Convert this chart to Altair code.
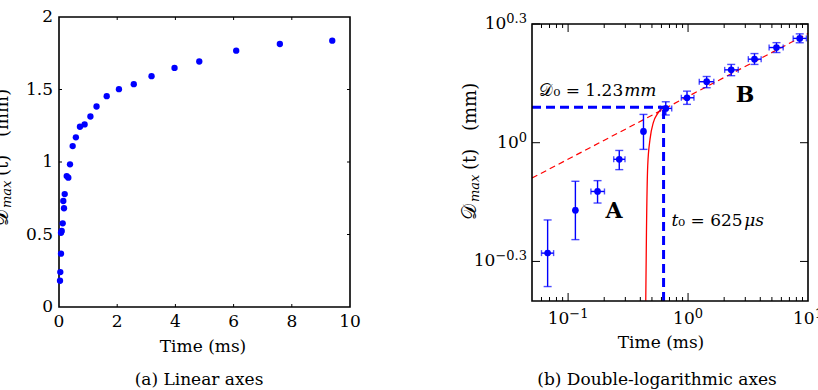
import altair as alt
import pandas as pd

# ---------------- data: panel (a), linear axes ----------------
t_lin = [0.034, 0.045, 0.069, 0.069, 0.093, 0.127, 0.172, 0.148, 0.196, 0.265,
         0.32, 0.378, 0.47, 0.58, 0.72, 0.88, 1.08, 1.29, 1.64, 2.06, 2.57,
         3.18, 3.97, 4.82, 6.09, 7.59, 9.39]
d_lin = [0.181, 0.241, 0.368, 0.512, 0.524, 0.577, 0.681, 0.731, 0.779, 0.903,
         0.892, 0.984, 1.110, 1.170, 1.243, 1.259, 1.314, 1.383, 1.454, 1.502,
         1.537, 1.592, 1.649, 1.693, 1.768, 1.814, 1.837]
lin_xticks = [0, 2, 4, 6, 8, 10]
lin_yticks = [0, 0.5, 1, 1.5, 2]

# ---------------- data: panel (b), log-log with error bars ----------------
t_log = [0.0675, 0.115, 0.176, 0.267, 0.425, 0.652, 0.980, 1.43, 2.29, 3.58, 5.46, 8.53]
t_lo = [0.060, 0.112, 0.155, 0.240, 0.415, 0.585, 0.879, 1.24, 2.02, 3.18, 4.74, 7.52]
t_hi = [0.0757, 0.118, 0.201, 0.298, 0.435, 0.731, 1.12, 1.64, 2.62, 4.07, 6.21, 9.70]
d_log = [0.526, 0.675, 0.753, 0.908, 1.068, 1.221, 1.299, 1.426, 1.528, 1.626, 1.740, 1.835]
d_lo = [0.433, 0.569, 0.704, 0.855, 0.962, 1.175, 1.250, 1.377, 1.477, 1.577, 1.690, 1.789]
d_hi = [0.638, 0.799, 0.802, 0.956, 1.179, 1.269, 1.350, 1.470, 1.577, 1.680, 1.790, 1.884]

# power-law regime B (dashed straight line in log-log)
fit_t = [0.05, 10.0]
fit_d = [0.814, 1.887]
# early-time curve of regime A
curve_t = [0.444, 0.450, 0.461, 0.482, 0.514, 0.554, 0.600, 0.640]
curve_d = [0.3985, 0.594, 0.875, 1.021, 1.126, 1.181, 1.216, 1.232]

T0 = 0.625   # ms
D0 = 1.23    # mm

log_x_domain = [0.05, 10.0]
log_y_domain = [10 ** -0.4, 10 ** 0.3]
log_x_major = [0.1, 1.0]
log_x_minor = [0.06, 0.07, 0.08, 0.09, 0.2, 0.3, 0.4, 0.5, 0.6, 0.7, 0.8, 0.9,
               2, 3, 4, 5, 6, 7, 8, 9]
log_x_labels = [(0.1, "\u22121"), (1.0, "0"), (10.0, "1")]
log_y_major = [10 ** -0.3, 1.0, 10 ** 0.3]
log_y_labels = [(10 ** -0.3, "\u22120.3"), (1.0, "0"), (10 ** 0.3, "0.3")]

# ---------------- layout & styling ----------------
FONT = "DejaVu Serif"
BLUE = "#0000ff"
RED = "#ff0000"
CANVAS_W, CANVAS_H = 818, 390
# plot frames of the two sub-figures on the shared canvas
A = dict(left=59, right=350, top=17, bottom=307)
B = dict(left=532, right=808, top=24, bottom=301)
CHAR_W = {"0": .636, "1": .636, "3": .636, ".": .318, "\u2212": .838}


def one(s):
    return pd.DataFrame({"s": [s]})


def text_layer(df, x, y, text_field="s", size=17, style="normal", weight="normal",
               align="center", baseline="middle", angle=0, dx=0, dy=0):
    return alt.Chart(df).mark_text(
        font=FONT, fontSize=size, fontStyle=style, fontWeight=weight,
        align=align, baseline=baseline, angle=angle, dx=dx, dy=dy, color="black"
    ).encode(x=x, y=y, text=f"{text_field}:N")


def ylabel_title(base_x, start_y):
    """Rotated 'Dmax(t) (mm)' built from pieces (script D, italic subscript)."""
    parts = [("\U0001D49F", 20, "normal", 0, 0),
             ("max", 13, "italic", 18, 3),
             ("(t)", 18, "normal", 50, 0),
             ("(mm)", 18, "normal", 89, 0)]
    return [text_layer(one(s), alt.value(base_x), alt.value(start_y), size=sz, style=st,
                       align="left", baseline="alphabetic", angle=270, dx=dx, dy=dy)
            for s, sz, st, dx, dy in parts]


def frame(p):
    return alt.Chart(one("")).mark_rect(filled=False, color="black", strokeWidth=1.6).encode(
        x=alt.value(p["left"]), x2=alt.value(p["right"]),
        y=alt.value(p["top"]), y2=alt.value(p["bottom"]))


# ================= panel (a) =================
xs_a = alt.Scale(domain=[0, 10], range=[A["left"], A["right"]], nice=False, zero=False)
ys_a = alt.Scale(domain=[0, 2], range=[A["bottom"], A["top"]], nice=False, zero=False)


def XA(f):
    return alt.X(f"{f}:Q", scale=xs_a, axis=None)


def YA(f):
    return alt.Y(f"{f}:Q", scale=ys_a, axis=None)


pts_a = alt.Chart(pd.DataFrame({"t": t_lin, "d": d_lin})).mark_circle(
    size=40, color=BLUE, opacity=1).encode(x=XA("t"), y=YA("d"))

xt_a = pd.DataFrame({"v": lin_xticks[1:-1]})
yt_a = pd.DataFrame({"v": lin_yticks[1:-1]})
tick_a = []
for y0, y1 in [(A["bottom"], A["bottom"] - 3), (A["top"], A["top"] + 3)]:
    tick_a.append(alt.Chart(xt_a).mark_rule(color="black", strokeWidth=1).encode(
        x=XA("v"), y=alt.value(y0), y2=alt.value(y1)))
for x0, x1 in [(A["left"], A["left"] + 3), (A["right"], A["right"] - 3)]:
    tick_a.append(alt.Chart(yt_a).mark_rule(color="black", strokeWidth=1).encode(
        y=YA("v"), x=alt.value(x0), x2=alt.value(x1)))

xl_a = pd.DataFrame({"v": lin_xticks, "s": [f"{v:g}" for v in lin_xticks]})
yl_a = pd.DataFrame({"v": lin_yticks, "s": [f"{v:g}" for v in lin_yticks]})
labels_a = [
    text_layer(xl_a, XA("v"), alt.value(A["bottom"] + 15)),
    text_layer(yl_a, alt.value(A["left"] - 6), YA("v"), align="right"),
]

texts_a = [
    text_layer(one("Time (ms)"), alt.value(203), alt.value(A["bottom"] + 40)),
    text_layer(one("(a) Linear axes"), alt.value(199), alt.value(380)),
] + ylabel_title(A["left"] - 51, A["top"] + 209)

panel_a = alt.layer(frame(A), *tick_a, pts_a, *labels_a, *texts_a)

# ================= panel (b) =================
xs_b = alt.Scale(type="log", domain=log_x_domain, range=[B["left"], B["right"]], nice=False)
ys_b = alt.Scale(type="log", domain=log_y_domain, range=[B["bottom"], B["top"]], nice=False)


def X(f):
    return alt.X(f"{f}:Q", scale=xs_b, axis=None)


def Y(f):
    return alt.Y(f"{f}:Q", scale=ys_b, axis=None)


df_b = pd.DataFrame({"t": t_log, "tlo": t_lo, "thi": t_hi,
                     "d": d_log, "dlo": d_lo, "dhi": d_hi})

guide_h = alt.Chart(pd.DataFrame({"a": [log_x_domain[0]], "b": [T0], "d": [D0]})).mark_rule(
    color=BLUE, strokeWidth=3, strokeDash=[9, 5]).encode(x=X("a"), x2="b:Q", y=Y("d"))
guide_v = alt.Chart(pd.DataFrame({"t": [T0], "a": [log_y_domain[0]], "b": [D0]})).mark_rule(
    color=BLUE, strokeWidth=3, strokeDash=[9, 5]).encode(x=X("t"), y=Y("a"), y2="b:Q")

fit_line = alt.Chart(pd.DataFrame({"t": fit_t, "d": fit_d})).mark_line(
    color=RED, strokeWidth=1.2, strokeDash=[6, 4]).encode(x=X("t"), y=Y("d"))
early_curve = alt.Chart(pd.DataFrame({"t": curve_t, "d": curve_d})).mark_line(
    color=RED, strokeWidth=1.3, interpolate="monotone").encode(
    x=X("t"), y=Y("d"), order="d:Q")

err_y = alt.Chart(df_b).mark_rule(color=BLUE, strokeWidth=1.4).encode(
    x=X("t"), y=Y("dlo"), y2="dhi:Q")
err_x = alt.Chart(df_b).mark_rule(color=BLUE, strokeWidth=1.4).encode(
    x=X("tlo"), x2="thi:Q", y=Y("d"))
cap_lo = alt.Chart(df_b).mark_tick(color=BLUE, orient="horizontal", size=8, thickness=1.4).encode(
    x=X("t"), y=Y("dlo"))
cap_hi = alt.Chart(df_b).mark_tick(color=BLUE, orient="horizontal", size=8, thickness=1.4).encode(
    x=X("t"), y=Y("dhi"))
cap_l = alt.Chart(df_b).mark_tick(color=BLUE, orient="vertical", size=6, thickness=1.4).encode(
    x=X("tlo"), y=Y("d"))
cap_r = alt.Chart(df_b).mark_tick(color=BLUE, orient="vertical", size=6, thickness=1.4).encode(
    x=X("thi"), y=Y("d"))
pts_b = alt.Chart(df_b).mark_circle(size=45, color=BLUE, opacity=1).encode(x=X("t"), y=Y("d"))

tick_b = []
for vals, ln in [(log_x_major, 8), (log_x_minor, 4)]:
    dfv = pd.DataFrame({"v": vals})
    for y0, y1 in [(B["bottom"], B["bottom"] - ln), (B["top"], B["top"] + ln)]:
        tick_b.append(alt.Chart(dfv).mark_rule(color="black", strokeWidth=1).encode(
            x=X("v"), y=alt.value(y0), y2=alt.value(y1)))
dfy = pd.DataFrame({"v": log_y_major})
for x0, x1 in [(B["left"], B["left"] + 8), (B["right"], B["right"] - 8)]:
    tick_b.append(alt.Chart(dfy).mark_rule(color="black", strokeWidth=1).encode(
        y=Y("v"), x=alt.value(x0), x2=alt.value(x1)))

labels_b = []
base_w = 1.272 * 17
for v, e in log_x_labels:
    exp_w = sum(CHAR_W[c] for c in e) * 13
    off = (base_w - exp_w) / 2
    dfl = pd.DataFrame({"t": [v], "s": ["10"], "e": [e]})
    labels_b.append(text_layer(dfl, X("t"), alt.value(B["bottom"] + 18), align="right", dx=off))
    labels_b.append(text_layer(dfl, X("t"), alt.value(B["bottom"] + 18), text_field="e",
                               size=13, align="left", dx=off, dy=-5))
for v, e in log_y_labels:
    exp_w = sum(CHAR_W[c] for c in e) * 13
    dfl = pd.DataFrame({"d": [v], "s": ["10"], "e": [e]})
    labels_b.append(text_layer(dfl, alt.value(B["left"] - 5 - exp_w), Y("d"), align="right"))
    labels_b.append(text_layer(dfl, alt.value(B["left"] - 5), Y("d"), text_field="e", size=13,
                               align="right", dy=-5))


def at(t, d, s):
    return pd.DataFrame({"t": [t], "d": [d], "s": [s]})


notes_b = [
    text_layer(at(0.288, 1.352, "\U0001D49F\u2080 = 1.23"), X("t"), Y("d"), align="right"),
    text_layer(at(0.288, 1.352, "mm"), X("t"), Y("d"), style="italic", align="left", dx=1),
    text_layer(at(0.829, 0.634, "t"), X("t"), Y("d"), style="italic", align="right"),
    text_layer(at(0.829, 0.634, "\u2080 = 625"), X("t"), Y("d"), align="left"),
    text_layer(at(0.829, 0.634, "\u03bcs"), X("t"), Y("d"), style="italic", align="left", dx=66),
    text_layer(at(0.242, 0.671, "A"), X("t"), Y("d"), size=22, weight="bold"),
    text_layer(at(2.98, 1.32, "B"), X("t"), Y("d"), size=22, weight="bold"),
    text_layer(one("Time (ms)"), alt.value(661), alt.value(B["bottom"] + 42)),
    text_layer(one("(b) Double-logarithmic axes"), alt.value(657), alt.value(380)),
] + ylabel_title(B["left"] - 56, B["top"] + 196)

panel_b = alt.layer(
    guide_h, guide_v, fit_line, early_curve,
    err_y, err_x, cap_lo, cap_hi, cap_l, cap_r, pts_b,
    frame(B), *tick_b, *labels_b, *notes_b
)

chart = alt.layer(panel_a, panel_b).resolve_scale(
    x="independent", y="independent"
).properties(
    width=CANVAS_W, height=CANVAS_H, padding=0,
    autosize=alt.AutoSizeParams(type="none"),
    background="white",
).configure_view(strokeOpacity=0)

chart.save("out.html", embed_options={"renderer": "svg", "actions": False})
